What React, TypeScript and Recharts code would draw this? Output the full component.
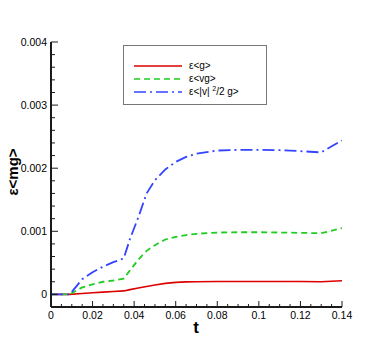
import React from "react";
import { LineChart, Line, XAxis, YAxis, Label } from "recharts";

const tValues = [0, 0.005, 0.009, 0.015, 0.02, 0.025, 0.03, 0.035, 0.038, 0.042, 0.046, 0.05, 0.055, 0.06, 0.065, 0.07, 0.08, 0.09, 0.1, 0.11, 0.12, 0.13, 0.14];
const gSeries = [0, 0, 0, 0.000015, 0.000025, 0.000035, 0.000045, 0.000055, 0.000075, 0.0001, 0.000125, 0.00015, 0.000175, 0.00019, 0.000198, 0.0002, 0.000205, 0.000205, 0.000205, 0.000205, 0.000203, 0.0002, 0.000215];
const vgSeries = [0, 0, 0, 0.00011, 0.00016, 0.0002, 0.00022, 0.00025, 0.00038, 0.00055, 0.00069, 0.00078, 0.00087, 0.00091, 0.00094, 0.00096, 0.00098, 0.000985, 0.000985, 0.00098, 0.000975, 0.00097, 0.00105];
const v2gSeries = [0, 0, 0, 0.00024, 0.00035, 0.00044, 0.00051, 0.00057, 0.00088, 0.00122, 0.0016, 0.00181, 0.00198, 0.0021, 0.00218, 0.00223, 0.00228, 0.00229, 0.00229, 0.002285, 0.00227, 0.00225, 0.00244];

const yMajorTicks = [0, 0.001, 0.002, 0.003, 0.004];
const xMajorTicks = [0, 0.02, 0.04, 0.06, 0.08, 0.1, 0.12, 0.14];

const yTicks: number[] = [];
for (let i = -1; i <= 20; i++) yTicks.push(Number((i * 0.0002).toFixed(5)));
const xTicks: number[] = [];
for (let i = 0; i <= 28; i++) xTicks.push(Number((i * 0.005).toFixed(4)));

const data = tValues.map((t, i) => ({ t, g: gSeries[i], vg: vgSeries[i], v2g: v2gSeries[i] }));

const FONT = "'Liberation Sans', Arial, Helvetica, sans-serif";
const AXIS_COLOR = "#1a1a1a";

const isMajor = (v: number, list: number[]) => list.some((m) => Math.abs(m - v) < 1e-9);

const YTick = (props: any) => {
  const { x, y, payload } = props;
  const v = payload.value;
  const axisX = x + 4;
  const major = isMajor(v, yMajorTicks);
  return (
    <g>
      <line x1={axisX} x2={axisX + (major ? 7 : 4)} y1={y} y2={y} stroke={AXIS_COLOR} strokeWidth={1} />
      {major && (
        <text x={x} y={y} dy="0.35em" textAnchor="end" fontSize={10.5} fontFamily={FONT} fill="#000">
          {String(v)}
        </text>
      )}
    </g>
  );
};

const XTick = (props: any) => {
  const { x, y, payload } = props;
  const v = payload.value;
  const axisY = y - 5;
  const major = isMajor(v, xMajorTicks);
  return (
    <g>
      <line x1={x} x2={x} y1={axisY} y2={axisY - (major ? 6 : 3)} stroke={AXIS_COLOR} strokeWidth={1} />
      {major && (
        <text x={x} y={y} dy="0.71em" textAnchor="middle" fontSize={10.5} fontFamily={FONT} fill="#000">
          {String(v)}
        </text>
      )}
    </g>
  );
};

const legendItems = [
  { key: "g", color: "#dd0000", dash: undefined as string | undefined, label: <>ε&lt;g&gt;</> },
  { key: "vg", color: "#22cc22", dash: "6 4", label: <>ε&lt;vg&gt;</> },
  {
    key: "v2g",
    color: "#3344ff",
    dash: "12 4 2 4",
    label: (
      <>
        ε&lt;|v| <sup style={{ fontSize: 7, verticalAlign: "top", position: "relative", top: -3 }}>2</sup>/2 g&gt;
      </>
    ),
  },
];

const LegendBox = () => (
  <div
    style={{
      position: "absolute",
      left: 123,
      top: 45,
      width: 144,
      height: 60,
      border: "1px solid #777",
      background: "#fff",
      fontFamily: FONT,
      fontSize: 10,
      color: "#000",
      boxSizing: "border-box",
    }}
  >
    {legendItems.map((it, i) => (
      <div key={it.key} style={{ position: "absolute", left: 10, top: 13 + i * 13, height: 13, display: "flex", alignItems: "center", whiteSpace: "nowrap" }}>
        <svg width={48} height={6} style={{ display: "block" }}>
          <line x1={0} x2={48} y1={3} y2={3} stroke={it.color} strokeWidth={1.6} strokeDasharray={it.dash} />
        </svg>
        <span style={{ marginLeft: 7, lineHeight: "13px" }}>{it.label}</span>
      </div>
    ))}
  </div>
);

export default function App() {
  return (
    <div style={{ position: "absolute", left: 0, top: 0, width: 389, height: 346, background: "#fff" }}>
      <LineChart width={389} height={346} data={data} margin={{ top: 42, right: 47, bottom: 0, left: 0 }}>
        <XAxis
          dataKey="t"
          type="number"
          domain={[0, 0.14]}
          ticks={xTicks}
          interval={0}
          height={39}
          tickSize={0}
          tickMargin={5}
          tickLine={false}
          tick={<XTick />}
          axisLine={{ stroke: AXIS_COLOR, strokeWidth: 2 }}
          allowDataOverflow
        >
          <Label
            content={() => (
              <text x={196} y={333} textAnchor="middle" fontSize={17} fontWeight="bold" fontFamily={FONT} fill="#000">
                t
              </text>
            )}
          />
        </XAxis>
        <YAxis
          type="number"
          domain={[-0.0002, 0.004]}
          ticks={yTicks}
          interval={0}
          width={51}
          tickSize={0}
          tickMargin={4}
          tickLine={false}
          tick={<YTick />}
          axisLine={{ stroke: AXIS_COLOR, strokeWidth: 2 }}
          allowDataOverflow
        >
          <Label
            content={() => (
              <text
                x={13}
                y={172}
                transform="rotate(-90 13 172)"
                dy="0.35em"
                textAnchor="middle"
                fontSize={15}
                fontWeight="bold"
                fontFamily={FONT}
                fill="#000"
              >
                ε&lt;mg&gt;
              </text>
            )}
          />
        </YAxis>
        <Line type="linear" dataKey="g" stroke="#dd0000" strokeWidth={1.6} dot={false} isAnimationActive={false} />
        <Line type="linear" dataKey="vg" stroke="#22cc22" strokeWidth={1.8} strokeDasharray="6 4" dot={false} isAnimationActive={false} />
        <Line type="linear" dataKey="v2g" stroke="#3344ff" strokeWidth={1.8} strokeDasharray="12 4 2 4" dot={false} isAnimationActive={false} />
      </LineChart>
      <LegendBox />
    </div>
  );
}
